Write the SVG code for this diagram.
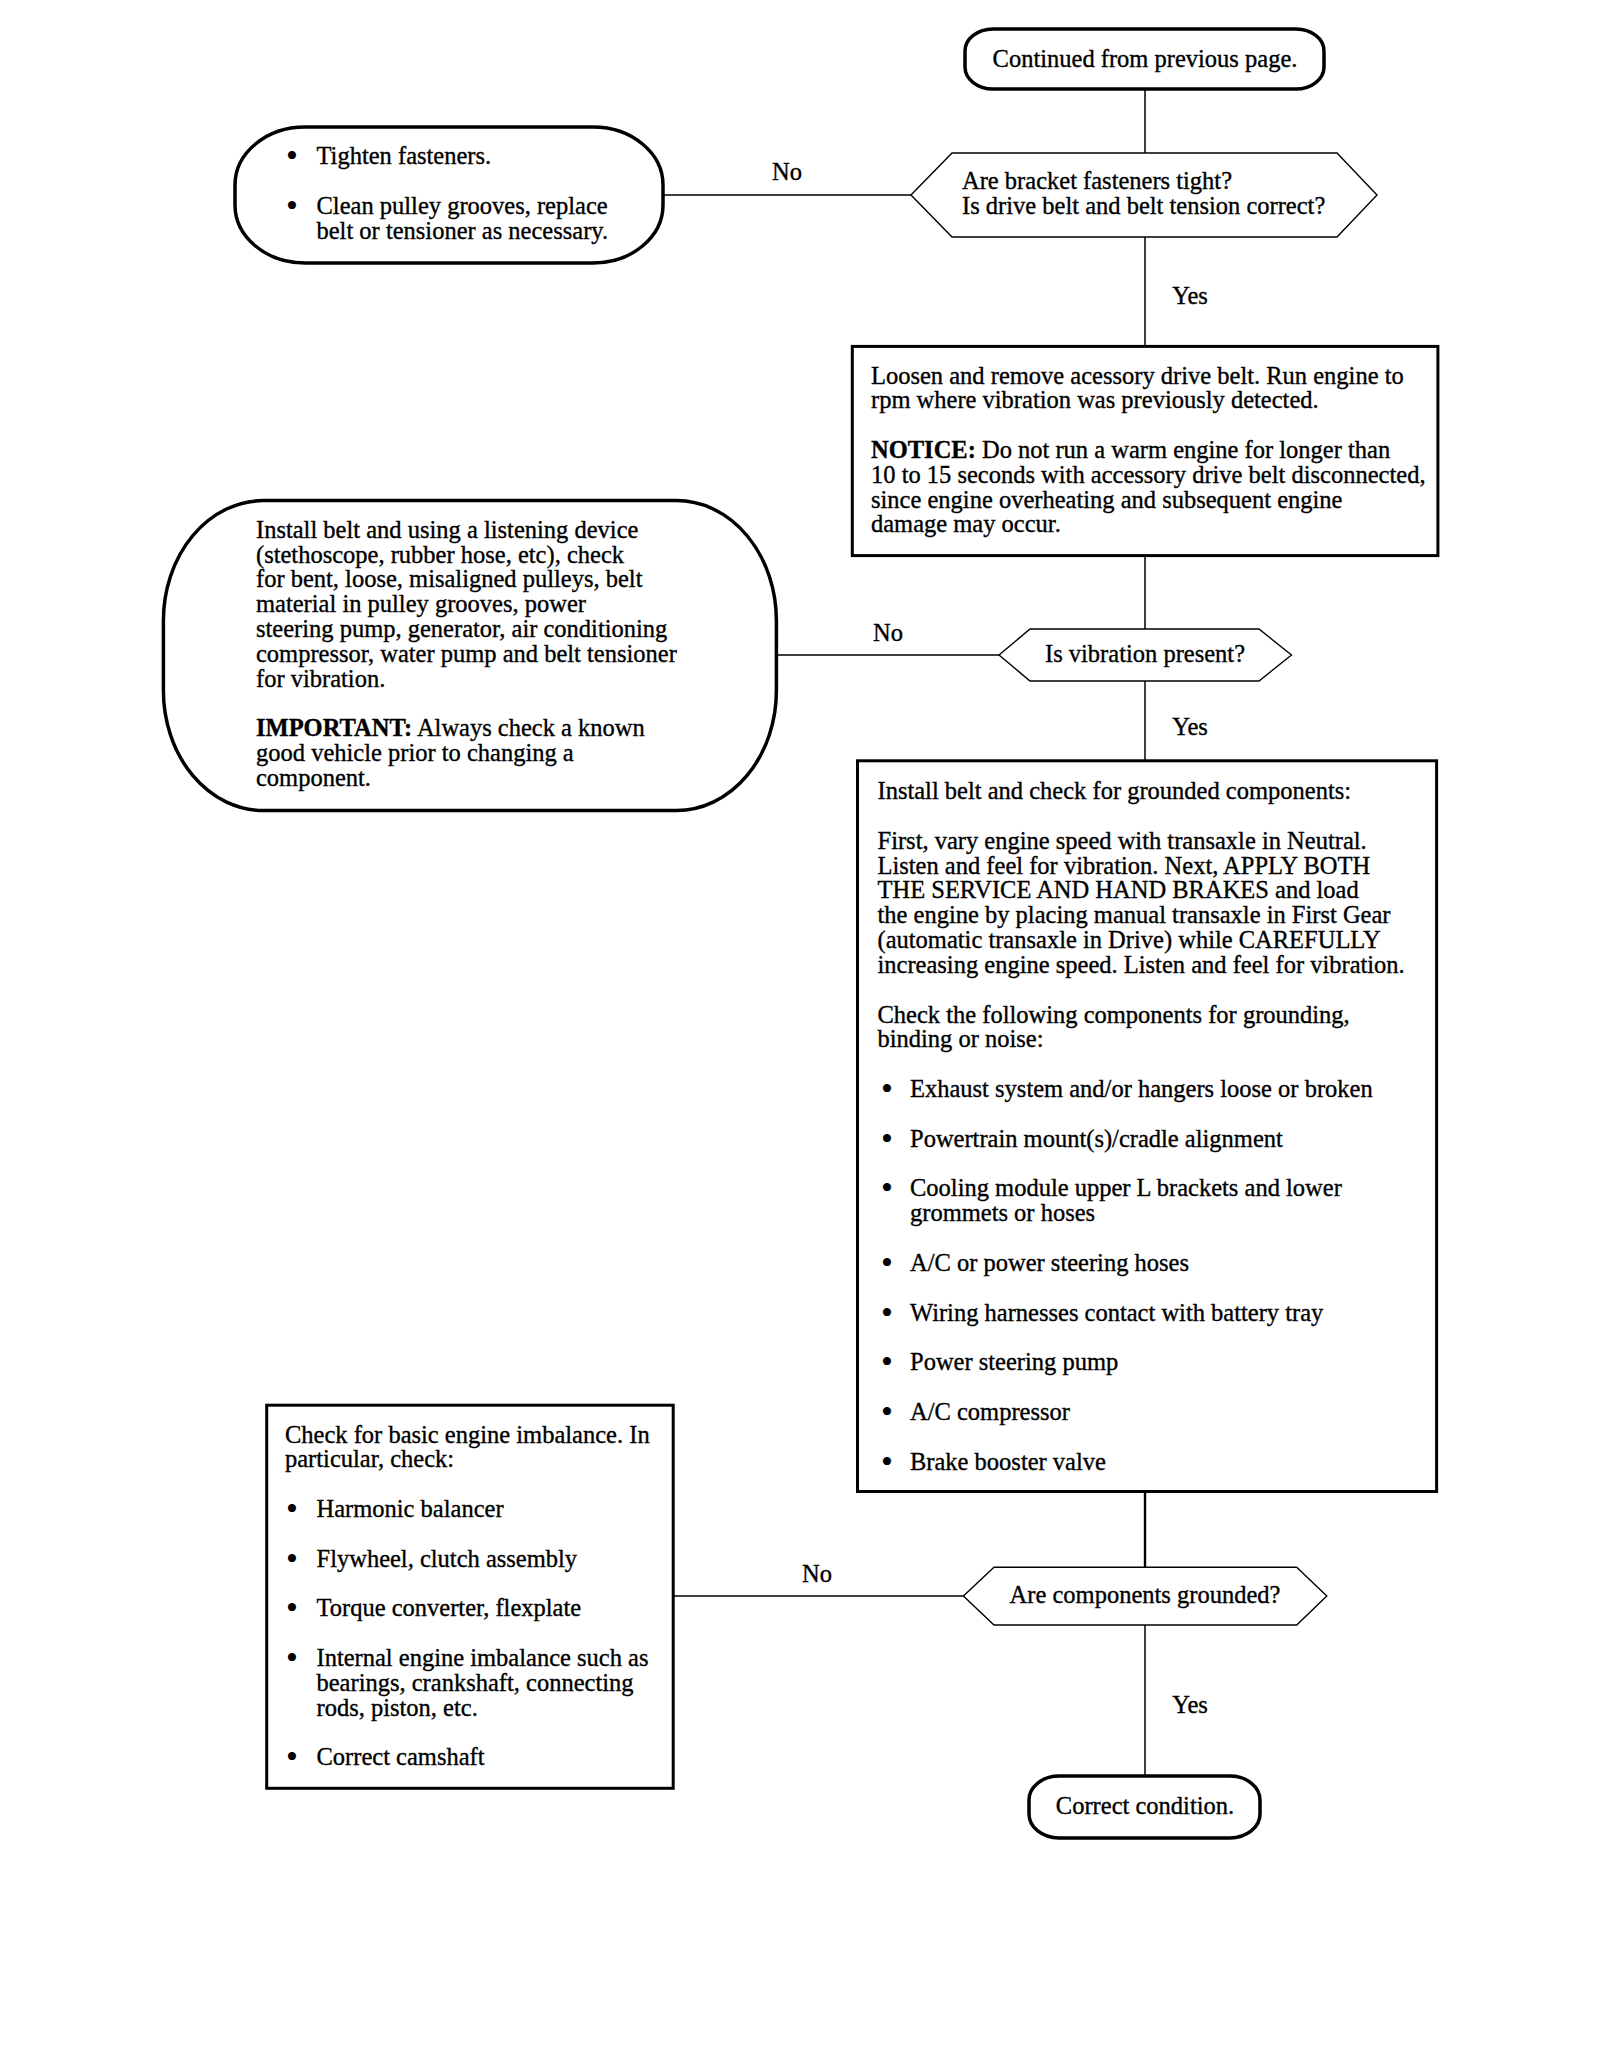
<svg xmlns="http://www.w3.org/2000/svg" width="1600" height="2050" viewBox="0 0 1600 2050">
<style>
.t{font-family:"Liberation Serif","Times New Roman",serif;font-size:24.5px;fill:#000;stroke:#000;stroke-width:0.35px}
.bu{font-family:"Liberation Serif","Times New Roman",serif;font-size:34px;fill:#000}
.b{font-weight:bold}
.m{text-anchor:middle}
.term{fill:#fff;stroke:#000;stroke-width:3.5}
.box{fill:#fff;stroke:#000;stroke-width:3}
.dec{fill:#fff;stroke:#000;stroke-width:1.4}
.con{stroke:#000;stroke-width:1.5;fill:none}
.con2{stroke:#000;stroke-width:2.4;fill:none}
</style>
<rect width="1600" height="2050" fill="#fff"/>
<g id="connectors">
<line class="con" x1="1145" y1="89" x2="1145" y2="153"/>
<line class="con" x1="1145" y1="237" x2="1145" y2="346"/>
<line class="con" x1="911" y1="195" x2="663" y2="195"/>
<line class="con" x1="1145" y1="556" x2="1145" y2="629"/>
<line class="con" x1="999" y1="655" x2="776.5" y2="655"/>
<line class="con" x1="1145" y1="681" x2="1145" y2="761"/>
<line class="con2" x1="1145" y1="1491.5" x2="1145" y2="1567.3"/>
<line class="con" x1="963.4" y1="1596" x2="673.2" y2="1596"/>
<line class="con" x1="1145" y1="1625" x2="1145" y2="1776"/>
<text class="t m" x="787" y="180">No</text>
<text class="t m" x="1190" y="304">Yes</text>
<text class="t m" x="888" y="641">No</text>
<text class="t m" x="1190" y="735">Yes</text>
<text class="t m" x="817" y="1582">No</text>
<text class="t m" x="1190" y="1713">Yes</text>
</g>
<g id="start">
<rect class="term" x="965" y="29" width="359" height="60" rx="28" ry="22"/>
<text class="t m" x="1145" y="66.5">Continued from previous page.</text>
</g>
<g id="decision1">
<polygon class="dec" points="911,195 952,153 1337,153 1377,195 1337,237 952,237"/>
<text class="t" x="962" y="189">Are bracket fasteners tight?</text>
<text class="t" x="962" y="214">Is drive belt and belt tension correct?</text>
</g>
<g id="tighten">
<rect class="term" x="235" y="127" width="428" height="136" rx="70" ry="58"/>
<text class="bu" x="286" y="167">•</text>
<text class="t" x="316.5" y="164">Tighten fasteners.</text>
<text class="bu" x="286" y="216.7">•</text>
<text class="t" x="316.5" y="213.7">Clean pulley grooves, replace</text>
<text class="t" x="316.5" y="238.5">belt or tensioner as necessary.</text>
</g>
<g id="loosen">
<rect class="box" x="852.3" y="346.4" width="585.6" height="209.2"/>
<text class="t" x="871" y="383.5">Loosen and remove acessory drive belt. Run engine to</text>
<text class="t" x="871" y="408.3">rpm where vibration was previously detected.</text>
<text class="t" x="871" y="458"><tspan class="b">NOTICE:</tspan>  Do not run a warm engine for longer than</text>
<text class="t" x="871" y="482.8">10 to 15 seconds with accessory drive belt disconnected,</text>
<text class="t" x="871" y="507.6">since engine overheating and subsequent engine</text>
<text class="t" x="871" y="532.4">damage may occur.</text>
</g>
<g id="decision2">
<polygon class="dec" points="999,655 1030,629 1259,629 1291.5,655 1259,681 1030,681"/>
<text class="t m" x="1145" y="662">Is vibration present?</text>
</g>
<g id="listening">
<rect class="term" x="163.4" y="500.6" width="613" height="310" rx="100" ry="120"/>
<text class="t" x="256" y="537.7">Install belt and using a listening device</text>
<text class="t" x="256" y="562.5">(stethoscope, rubber hose, etc), check</text>
<text class="t" x="256" y="587.4">for bent, loose, misaligned pulleys, belt</text>
<text class="t" x="256" y="612.2">material in pulley grooves, power</text>
<text class="t" x="256" y="637">steering pump, generator, air conditioning</text>
<text class="t" x="256" y="661.9">compressor, water pump and belt tensioner</text>
<text class="t" x="256" y="686.7">for vibration.</text>
<text class="t" x="256" y="736.4"><tspan class="b">IMPORTANT:</tspan>  Always check a known</text>
<text class="t" x="256" y="761.2">good vehicle prior to changing a</text>
<text class="t" x="256" y="786">component.</text>
</g>
<g id="grounded-check">
<rect class="box" x="857.5" y="760.8" width="579.1" height="730.7"/>
<text class="t" x="877.5" y="799">Install belt and check for grounded components:</text>
<text class="t" x="877.5" y="848.7">First, vary engine speed with transaxle in Neutral.</text>
<text class="t" x="877.5" y="873.5">Listen and feel for vibration. Next, APPLY BOTH</text>
<text class="t" x="877.5" y="898.4">THE SERVICE AND HAND BRAKES and load</text>
<text class="t" x="877.5" y="923.2">the engine by placing manual transaxle in First Gear</text>
<text class="t" x="877.5" y="948">(automatic transaxle in Drive) while CAREFULLY</text>
<text class="t" x="877.5" y="972.9">increasing engine speed. Listen and feel for vibration.</text>
<text class="t" x="877.5" y="1022.6">Check the following components for grounding,</text>
<text class="t" x="877.5" y="1047.4">binding or noise:</text>
<text class="bu" x="881" y="1100.1">•</text><text class="t" x="910" y="1097.1">Exhaust system and/or hangers loose or broken</text>
<text class="bu" x="881" y="1149.8">•</text><text class="t" x="910" y="1146.8">Powertrain mount(s)/cradle alignment</text>
<text class="bu" x="881" y="1199.4">•</text><text class="t" x="910" y="1196.4">Cooling module upper L brackets and lower</text>
<text class="t" x="910" y="1221.3">grommets or hoses</text>
<text class="bu" x="881" y="1274">•</text><text class="t" x="910" y="1271">A/C or power steering hoses</text>
<text class="bu" x="881" y="1323.6">•</text><text class="t" x="910" y="1320.6">Wiring harnesses contact with battery tray</text>
<text class="bu" x="881" y="1373.3">•</text><text class="t" x="910" y="1370.3">Power steering pump</text>
<text class="bu" x="881" y="1423">•</text><text class="t" x="910" y="1420">A/C compressor</text>
<text class="bu" x="881" y="1472.7">•</text><text class="t" x="910" y="1469.7">Brake booster valve</text>
</g>
<g id="decision3">
<polygon class="dec" points="963.4,1596 994,1567.3 1296.7,1567.3 1326.8,1596 1296.7,1625 994,1625"/>
<text class="t m" x="1145" y="1603">Are components grounded?</text>
</g>
<g id="imbalance">
<rect class="box" x="266.7" y="1405.2" width="406.5" height="383.1"/>
<text class="t" x="285" y="1442.5">Check for basic engine imbalance. In</text>
<text class="t" x="285" y="1467.3">particular, check:</text>
<text class="bu" x="286" y="1520">•</text><text class="t" x="316.5" y="1517">Harmonic balancer</text>
<text class="bu" x="286" y="1569.7">•</text><text class="t" x="316.5" y="1566.7">Flywheel, clutch assembly</text>
<text class="bu" x="286" y="1619.4">•</text><text class="t" x="316.5" y="1616.4">Torque converter, flexplate</text>
<text class="bu" x="286" y="1669">•</text><text class="t" x="316.5" y="1666">Internal engine imbalance such as</text>
<text class="t" x="316.5" y="1690.9">bearings, crankshaft, connecting</text>
<text class="t" x="316.5" y="1715.7">rods, piston, etc.</text>
<text class="bu" x="286" y="1768.4">•</text><text class="t" x="316.5" y="1765.4">Correct camshaft</text>
</g>
<g id="end">
<rect class="term" x="1029" y="1776" width="231" height="62" rx="30" ry="24"/>
<text class="t m" x="1145" y="1814">Correct condition.</text>
</g>
</svg>
